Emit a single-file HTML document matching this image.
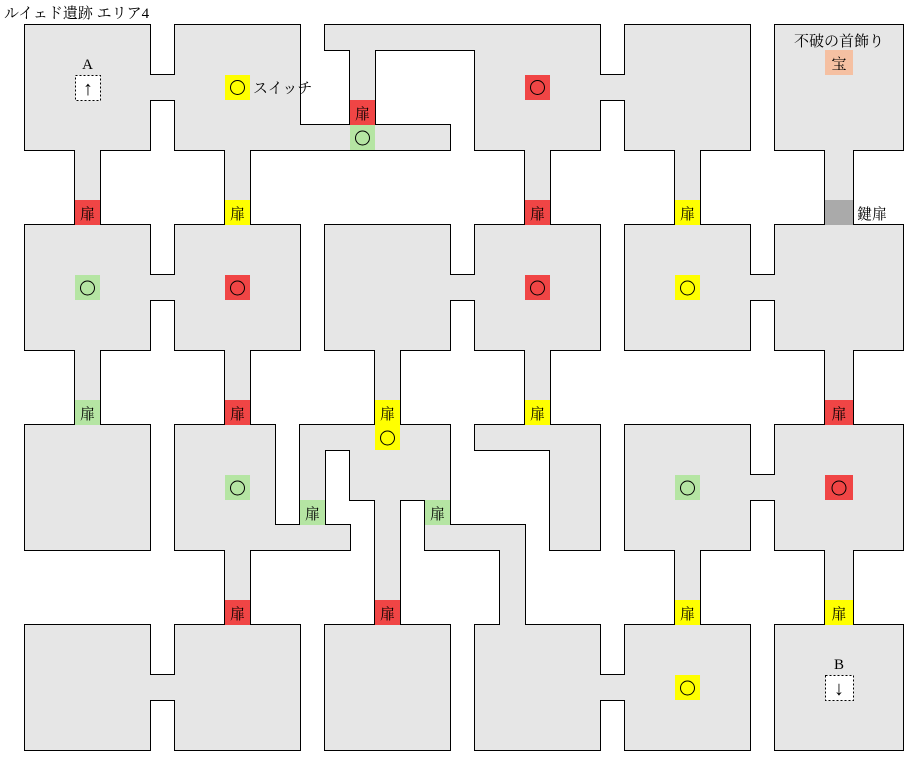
<!DOCTYPE html>
<html><head><meta charset="utf-8"><style>
html,body{margin:0;padding:0;background:#fff;width:921px;height:765px;overflow:hidden}
svg{display:block}
text{font-family:"Liberation Serif","Noto Serif CJK SC","Noto Sans CJK JP",serif;fill:#000}
</style></head><body>
<svg width="921" height="765" viewBox="0 0 921 765" xmlns="http://www.w3.org/2000/svg">
<defs>
<g id="shapes">
<rect x="25" y="25" width="125" height="125"/><rect x="175" y="25" width="125" height="125"/><rect x="475" y="25" width="125" height="125"/><rect x="625" y="25" width="125" height="125"/><rect x="775" y="25" width="128" height="125"/>
<rect x="300" y="125" width="150" height="25"/><rect x="325" y="25" width="150" height="25"/><rect x="350" y="50" width="25" height="75"/>
<rect x="25" y="225" width="125" height="125"/><rect x="175" y="225" width="125" height="125"/><rect x="325" y="225" width="125" height="125"/><rect x="475" y="225" width="125" height="125"/><rect x="625" y="225" width="125" height="125"/><rect x="775" y="225" width="128" height="125"/>
<rect x="25" y="425" width="125" height="125"/><rect x="625" y="425" width="125" height="125"/><rect x="775" y="425" width="128" height="125"/>
<rect x="175" y="425" width="100" height="125"/><rect x="275" y="525" width="75" height="25"/>
<rect x="300" y="425" width="150" height="25"/><rect x="300" y="450" width="25" height="75"/><rect x="350" y="450" width="100" height="50"/><rect x="375" y="500" width="25" height="125"/>
<rect x="425" y="500" width="25" height="25"/><rect x="425" y="525" width="100" height="25"/><rect x="500" y="550" width="25" height="75"/>
<rect x="475" y="425" width="125" height="25"/><rect x="550" y="450" width="50" height="100"/>
<rect x="25" y="625" width="125" height="125"/><rect x="175" y="625" width="125" height="125"/><rect x="325" y="625" width="125" height="125"/><rect x="475" y="625" width="125" height="125"/><rect x="625" y="625" width="125" height="125"/><rect x="775" y="625" width="128" height="125"/>
<rect x="150" y="75" width="25" height="25"/><rect x="600" y="75" width="25" height="25"/><rect x="150" y="275" width="25" height="25"/><rect x="450" y="275" width="25" height="25"/><rect x="750" y="275" width="25" height="25"/><rect x="750" y="475" width="25" height="25"/><rect x="150" y="675" width="25" height="25"/><rect x="600" y="675" width="25" height="25"/>
<rect x="75" y="150" width="25" height="75"/><rect x="225" y="150" width="25" height="75"/><rect x="525" y="150" width="25" height="75"/><rect x="675" y="150" width="25" height="75"/><rect x="825" y="150" width="28" height="75"/>
<rect x="75" y="350" width="25" height="75"/><rect x="225" y="350" width="25" height="75"/><rect x="375" y="350" width="25" height="75"/><rect x="525" y="350" width="25" height="75"/><rect x="825" y="350" width="28" height="75"/>
<rect x="225" y="550" width="25" height="75"/><rect x="675" y="550" width="25" height="75"/><rect x="825" y="550" width="28" height="75"/>
</g>
</defs>
<use href="#shapes" fill="#000" stroke="#000" stroke-width="2"/>
<use href="#shapes" fill="#e6e6e6" stroke="none"/>
<g fill="#f04545">
<rect x="75" y="200" width="25" height="25"/><rect x="350" y="100" width="25" height="25"/><rect x="525" y="200" width="25" height="25"/><rect x="225" y="400" width="25" height="25"/><rect x="825" y="400" width="28" height="25"/><rect x="225" y="600" width="25" height="25"/><rect x="375" y="600" width="25" height="25"/>
<rect x="525" y="75" width="25" height="25"/><rect x="225" y="275" width="25" height="25"/><rect x="525" y="275" width="25" height="25"/><rect x="825" y="475" width="28" height="25"/>
</g>
<g fill="#ffff00">
<rect x="225" y="200" width="25" height="25"/><rect x="675" y="200" width="25" height="25"/><rect x="375" y="400" width="25" height="25"/><rect x="525" y="400" width="25" height="25"/><rect x="675" y="600" width="25" height="25"/><rect x="825" y="600" width="28" height="25"/>
<rect x="225" y="75" width="25" height="25"/><rect x="375" y="425" width="25" height="25"/><rect x="675" y="275" width="25" height="25"/><rect x="675" y="675" width="25" height="25"/>
</g>
<g fill="#b5e5a3">
<rect x="75" y="400" width="25" height="25"/><rect x="300" y="500" width="25" height="25"/><rect x="425" y="500" width="25" height="25"/>
<rect x="350" y="125" width="25" height="25"/><rect x="75" y="275" width="25" height="25"/><rect x="225" y="475" width="25" height="25"/><rect x="675" y="475" width="25" height="25"/>
</g>
<rect x="825" y="200" width="28" height="25" fill="#aaaaaa"/>
<rect x="825" y="50" width="28" height="25" fill="#f5c0a2"/>
<g fill="none" stroke="#000" stroke-width="1">
<circle cx="237.5" cy="87.5" r="7"/><circle cx="387.5" cy="438" r="7"/><circle cx="687.5" cy="288" r="7"/><circle cx="687.5" cy="688" r="7"/>
<circle cx="537.5" cy="87.5" r="7"/><circle cx="237.5" cy="288" r="7"/><circle cx="537.5" cy="288" r="7"/><circle cx="839" cy="488" r="7"/>
<circle cx="362.5" cy="138" r="7"/><circle cx="87.5" cy="288" r="7"/><circle cx="237.5" cy="488" r="7"/><circle cx="687.5" cy="488" r="7"/>
</g>
<g font-size="15" text-anchor="middle">
<text x="87.5" y="219">扉</text><text x="362.5" y="119">扉</text><text x="537.5" y="219">扉</text><text x="237.5" y="419">扉</text><text x="839" y="419">扉</text><text x="237.5" y="619">扉</text><text x="387.5" y="619">扉</text>
<text x="237.5" y="219">扉</text><text x="687.5" y="219">扉</text><text x="387.5" y="419">扉</text><text x="537.5" y="419">扉</text><text x="687.5" y="619">扉</text><text x="839" y="619">扉</text>
<text x="87.5" y="419">扉</text><text x="312.5" y="519">扉</text><text x="437.5" y="519">扉</text>
<text x="839" y="69">宝</text>
</g>
<text x="857" y="219" font-size="15">鍵扉</text>
<text x="253" y="93" font-size="15">スイッチ</text>
<text x="839" y="46" font-size="15" text-anchor="middle">不破の首飾り</text>
<text x="4" y="18" font-size="15">ルイェド遺跡 エリア4</text>
<text x="87.5" y="69" font-size="15" text-anchor="middle">A</text>
<rect x="75.5" y="75.5" width="25" height="25" fill="#fff" stroke="#000" stroke-dasharray="2,2"/>
<text x="88" y="95" font-size="20" text-anchor="middle">↑</text>
<text x="839" y="669" font-size="15" text-anchor="middle">B</text>
<rect x="825.5" y="675.5" width="28" height="25" fill="#fff" stroke="#000" stroke-dasharray="2,2"/>
<text x="839" y="695" font-size="20" text-anchor="middle">↓</text>
</svg>
</body></html>
